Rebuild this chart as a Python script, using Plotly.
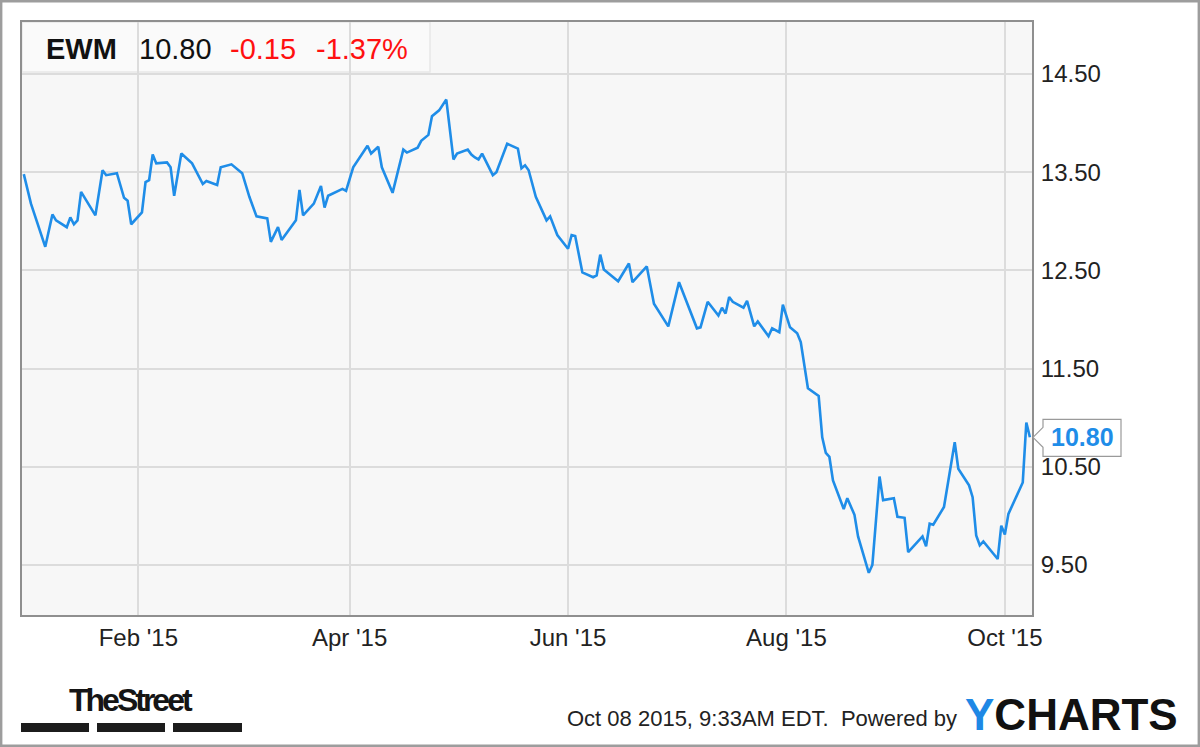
import plotly.graph_objects as go

# ---------------- data ----------------
ticker = "EWM"
dates = [
    "2014-12-31", "2015-01-02", "2015-01-06", "2015-01-08", "2015-01-09", "2015-01-12",
    "2015-01-13", "2015-01-14", "2015-01-15", "2015-01-16", "2015-01-20", "2015-01-22",
    "2015-01-23", "2015-01-26", "2015-01-28", "2015-01-29", "2015-01-30", "2015-02-02",
    "2015-02-03", "2015-02-04", "2015-02-05", "2015-02-06", "2015-02-09", "2015-02-10",
    "2015-02-11", "2015-02-13", "2015-02-16", "2015-02-19", "2015-02-20", "2015-02-23",
    "2015-02-24", "2015-02-27", "2015-03-02", "2015-03-04", "2015-03-06", "2015-03-09",
    "2015-03-10", "2015-03-12", "2015-03-13", "2015-03-17", "2015-03-18", "2015-03-19",
    "2015-03-22", "2015-03-24", "2015-03-25", "2015-03-26", "2015-03-30", "2015-03-31",
    "2015-04-02", "2015-04-06", "2015-04-07", "2015-04-09", "2015-04-10", "2015-04-13",
    "2015-04-16", "2015-04-17", "2015-04-20", "2015-04-21", "2015-04-23", "2015-04-24",
    "2015-04-26", "2015-04-28", "2015-04-30", "2015-05-01", "2015-05-04", "2015-05-05",
    "2015-05-06", "2015-05-07", "2015-05-08", "2015-05-11", "2015-05-12", "2015-05-15",
    "2015-05-18", "2015-05-19", "2015-05-20", "2015-05-21", "2015-05-23", "2015-05-26",
    "2015-05-27", "2015-05-29", "2015-06-01", "2015-06-02", "2015-06-03", "2015-06-05",
    "2015-06-08", "2015-06-09", "2015-06-10", "2015-06-11", "2015-06-15", "2015-06-18",
    "2015-06-19", "2015-06-23", "2015-06-25", "2015-06-29", "2015-07-02", "2015-07-07",
    "2015-07-08", "2015-07-10", "2015-07-13", "2015-07-14", "2015-07-15", "2015-07-16",
    "2015-07-17", "2015-07-20", "2015-07-21", "2015-07-23", "2015-07-24", "2015-07-27",
    "2015-07-28", "2015-07-30", "2015-07-31", "2015-08-02", "2015-08-04", "2015-08-05",
    "2015-08-07", "2015-08-10", "2015-08-11", "2015-08-12", "2015-08-13", "2015-08-14",
    "2015-08-17", "2015-08-18", "2015-08-20", "2015-08-21", "2015-08-24", "2015-08-25",
    "2015-08-27", "2015-08-28", "2015-08-31", "2015-09-01", "2015-09-03", "2015-09-04",
    "2015-09-08", "2015-09-09", "2015-09-10", "2015-09-11", "2015-09-14", "2015-09-17",
    "2015-09-18", "2015-09-21", "2015-09-22", "2015-09-23", "2015-09-24", "2015-09-25",
    "2015-09-29", "2015-09-30", "2015-10-01", "2015-10-02", "2015-10-06", "2015-10-07",
    "2015-10-08",
]
prices = [
    13.48, 13.18, 12.74, 13.07, 13.01, 12.94,
    13.04, 12.97, 13.01, 13.30, 13.06, 13.52,
    13.47, 13.49, 13.24, 13.21, 12.97, 13.09,
    13.40, 13.42, 13.68, 13.59, 13.60, 13.55,
    13.26, 13.69, 13.59, 13.38, 13.41, 13.37,
    13.55, 13.58, 13.49, 13.25, 13.05, 13.03,
    12.79, 12.94, 12.81, 13.01, 13.32, 13.06,
    13.18, 13.36, 13.14, 13.26, 13.33, 13.31,
    13.55, 13.77, 13.69, 13.76, 13.55, 13.29,
    13.73, 13.70, 13.75, 13.82, 13.88, 14.07,
    14.13, 14.24, 13.63, 13.69, 13.73, 13.68,
    13.65, 13.63, 13.69, 13.47, 13.50, 13.79,
    13.74, 13.54, 13.57, 13.52, 13.25, 13.01,
    13.05, 12.86, 12.72, 12.86, 12.85, 12.48,
    12.43, 12.45, 12.66, 12.51, 12.39, 12.57,
    12.38, 12.54, 12.16, 11.93, 12.38, 11.91,
    11.92, 12.18, 12.04, 12.12, 12.06, 12.23,
    12.18, 12.12, 12.19, 11.93, 11.98, 11.83,
    11.91, 11.87, 12.15, 11.92, 11.86, 11.77,
    11.30, 11.22, 10.80, 10.64, 10.60, 10.36,
    10.07, 10.18, 10.01, 9.79, 9.42, 9.50,
    10.40, 10.16, 10.18, 9.99, 9.98, 9.63,
    9.79, 9.69, 9.92, 9.91, 10.09, 10.75,
    10.48, 10.31, 10.19, 9.80, 9.70, 9.74,
    9.56, 9.90, 9.81, 10.02, 10.34, 10.95,
    10.80,
]
x_tick_vals = ["2015-02-01", "2015-04-01", "2015-06-01", "2015-08-01", "2015-10-01"]
x_tick_text = ["Feb '15", "Apr '15", "Jun '15", "Aug '15", "Oct '15"]
y_tick_vals = [9.5, 10.5, 11.5, 12.5, 13.5, 14.5]
stamp_text = "Oct 08 2015, 9:33AM EDT.&nbsp; Powered by"

# ---------------- derived header values ----------------
last = prices[-1]
chg = prices[-1] - prices[-2]
pct = chg / prices[-2] * 100

# ---------------- layout geometry ----------------
FW, FH = 1200, 747
L, R, T, B = 22, 1032, 22, 615
PW, PH = R - L, B - T


def px(xp):
    return (xp - L) / PW


def py(yp):
    return (B - yp) / PH


LINE_BLUE = "#1f8de8"
FONT = "Liberation Sans, Arial, sans-serif"

fig = go.Figure()
fig.add_trace(go.Scatter(
    x=dates, y=prices, mode="lines",
    line=dict(color=LINE_BLUE, width=2.6),
    hoverinfo="x+y", showlegend=False,
))

shapes = []
# header box
shapes.append(dict(type="rect", xref="paper", yref="paper",
                   x0=px(22), x1=px(430), y0=py(72), y1=py(22),
                   fillcolor="#fafafa", line=dict(color="#e8e8e8", width=1.5),
                   layer="below"))
# last value badge (pixel-sized, anchored at right edge / last value)
shapes.append(dict(type="path", xref="paper", yref="y",
                   xsizemode="pixel", ysizemode="pixel",
                   xanchor=1, yanchor=last,
                   path="M 1,0 L 11,10 L 11,18 L 89,18 L 89,-19 L 11,-19 L 11,-10 Z",
                   fillcolor="white", line=dict(color="#9a9a9a", width=1.2),
                   layer="above"))
# TheStreet bars
for x0, x1 in [(21, 89), (97, 165), (173, 242)]:
    shapes.append(dict(type="rect", xref="paper", yref="paper",
                       x0=px(x0), x1=px(x1), y0=py(732), y1=py(723),
                       fillcolor="#1c1c1c", line=dict(width=0), layer="above"))
# outer border
shapes.append(dict(type="rect", xref="paper", yref="paper",
                   x0=px(1.2), x1=px(FW - 1.2), y0=py(FH - 1.2), y1=py(1.2),
                   fillcolor="rgba(0,0,0,0)", line=dict(color="#9d9d9d", width=2.4),
                   layer="above"))

annotations = []
hdr_y = py(49)
annotations.append(dict(xref="paper", yref="paper", x=px(44), y=hdr_y,
                        xanchor="left", yanchor="middle", showarrow=False,
                        text="<b>" + ticker + "</b>",
                        font=dict(family=FONT, size=29, color="#111111")))
annotations.append(dict(xref="paper", yref="paper", x=px(137), y=hdr_y,
                        xanchor="left", yanchor="middle", showarrow=False,
                        text=f"{last:.2f}",
                        font=dict(family=FONT, size=29, color="#111111")))
annotations.append(dict(xref="paper", yref="paper", x=px(228), y=hdr_y,
                        xanchor="left", yanchor="middle", showarrow=False,
                        text=f"{chg:.2f}",
                        font=dict(family=FONT, size=29, color="#ff1010")))
annotations.append(dict(xref="paper", yref="paper", x=px(314), y=hdr_y,
                        xanchor="left", yanchor="middle", showarrow=False,
                        text=f"{pct:.2f}%",
                        font=dict(family=FONT, size=29, color="#ff1010")))
# badge text
annotations.append(dict(xref="paper", yref="y", x=1, y=last,
                        xanchor="center", yanchor="middle", xshift=50,
                        showarrow=False, text=f"<b>{last:.2f}</b>",
                        font=dict(family=FONT, size=25, color=LINE_BLUE)))
# footer
annotations.append(dict(xref="paper", yref="paper", x=px(131), y=py(700),
                        xanchor="center", yanchor="middle", showarrow=False,
                        text="<b><span style='letter-spacing:-3px'>TheStreet</span></b>",
                        font=dict(family=FONT, size=32, color="#151515")))
annotations.append(dict(xref="paper", yref="paper", x=px(959), y=py(718),
                        xanchor="right", yanchor="middle", showarrow=False,
                        text=stamp_text,
                        font=dict(family=FONT, size=22, color="#222222")))
annotations.append(dict(xref="paper", yref="paper", x=px(963), y=py(714),
                        xanchor="left", yanchor="middle", showarrow=False,
                        text="<b><span style='color:#1e88e5'>Y</span>CHARTS</b>",
                        font=dict(family=FONT, size=44, color="#111111")))

fig.update_layout(
    width=FW, height=FH,
    margin=dict(l=L, r=FW - R, t=T, b=FH - B),
    paper_bgcolor="white", plot_bgcolor="#f7f7f7",
    shapes=shapes, annotations=annotations,
    showlegend=False,
    xaxis=dict(
        type="date",
        range=["2014-12-30 12:00", "2015-10-08 14:00"],
        tickvals=x_tick_vals, ticktext=x_tick_text,
        showgrid=True, gridcolor="#dcdcdc", gridwidth=2,
        showline=True, linecolor="#8f8f8f", linewidth=2, mirror=True,
        ticks="", ticklabelstandoff=0,
        tickfont=dict(family=FONT, size=24, color="#222222"),
        zeroline=False, fixedrange=True,
    ),
    yaxis=dict(
        side="right",
        range=[8.99, 15.03],
        tickvals=y_tick_vals, tickformat=".2f",
        showgrid=True, gridcolor="#dcdcdc", gridwidth=2,
        showline=True, linecolor="#8f8f8f", linewidth=2, mirror=True,
        ticks="", ticklabelstandoff=2,
        tickfont=dict(family=FONT, size=24, color="#222222"),
        zeroline=False, fixedrange=True,
    ),
)

fig.write_html("out.html", config={"displayModeBar": False},
               post_script="document.body.style.margin='0';document.body.style.padding='0';")
